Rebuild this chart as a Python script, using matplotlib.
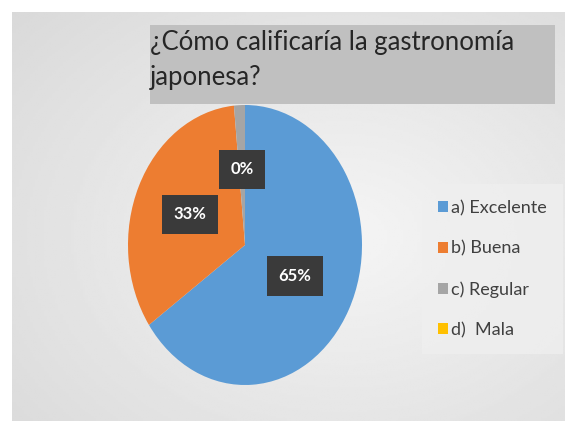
import numpy as np
import matplotlib
matplotlib.use("Agg")
from matplotlib import pyplot as plt

title = "¿Cómo calificaría la gastronomía\njaponesa?"
categories = ["a) Excelente", "b) Buena", "c) Regular", "d)  Mala"]
values = [65, 33, 1.5, 0]
value_labels = ["65%", "33%", "0%", ""]
colors = ["#5B9BD5", "#ED7D31", "#A5A5A5", "#FFC000"]
label_dist = [0.48, 0.52, 0.54, 0.5]

plt.rcParams["font.family"] = ["Lato", "DejaVu Sans"]

fig = plt.figure(figsize=(5.65, 4.21), dpi=100)
fig.patch.set_facecolor("white")

# gray gradient panel
bg = fig.add_axes([12 / 565, 0, 1 - 12 / 565, 1 - 12 / 421])
yy, xx = np.mgrid[0:1:200j, 0:1:200j]
d = np.sqrt(((xx - 0.6) / 0.9) ** 2 + ((yy - 0.55) / 0.9) ** 2)
shade = 0.96 - 0.12 * np.clip(d, 0, 1)
bg.imshow(shade, cmap="gray", vmin=0, vmax=1, aspect="auto", extent=[0, 1, 0, 1])
bg.axis("off")

# pie (elliptical, as in the source image)
ax = fig.add_axes([128 / 565, (421 - 385) / 421, 234 / 565, 280 / 421])
wedges, _ = ax.pie(values, colors=colors, startangle=90, counterclock=False,
                   wedgeprops=dict(linewidth=0))
ax.set_aspect("auto")
ax.set_xlim(-1, 1)
ax.set_ylim(-1, 1)

for w, lab, r in zip(wedges, value_labels, label_dist):
    if not lab:
        continue
    ang = np.deg2rad((w.theta1 + w.theta2) / 2)
    ax.text(r * np.cos(ang), r * np.sin(ang), lab, ha="center", va="center",
            color="white", fontsize=12, fontweight="bold",
            bbox=dict(boxstyle="square,pad=0.7", facecolor="#3A3A3A",
                      edgecolor="none"))

# title in gray box
fig.patches.append(plt.Rectangle((150 / 565, 1 - 104 / 421), 405 / 565, 79 / 421,
                                 transform=fig.transFigure, facecolor="#C0C0C0",
                                 edgecolor="none", zorder=0.5))
fig.text(150 / 565, 1 - 30 / 421, title, ha="left", va="top", fontsize=18.5,
         color="#262626", linespacing=1.5)

leg = fig.legend(wedges, categories, loc="center left",
                 bbox_to_anchor=(418 / 565, 1 - 269 / 421), frameon=True,
                 fontsize=13, handlelength=0.55, handleheight=0.55,
                 handletextpad=0.2, labelspacing=1.35, borderpad=0.6)
leg.get_frame().set_facecolor("#EFEFEF")
leg.get_frame().set_edgecolor("none")
leg.get_frame().set_boxstyle("square")
for t in leg.get_texts():
    t.set_color("#404040")

fig.savefig("out.png", dpi=100)
